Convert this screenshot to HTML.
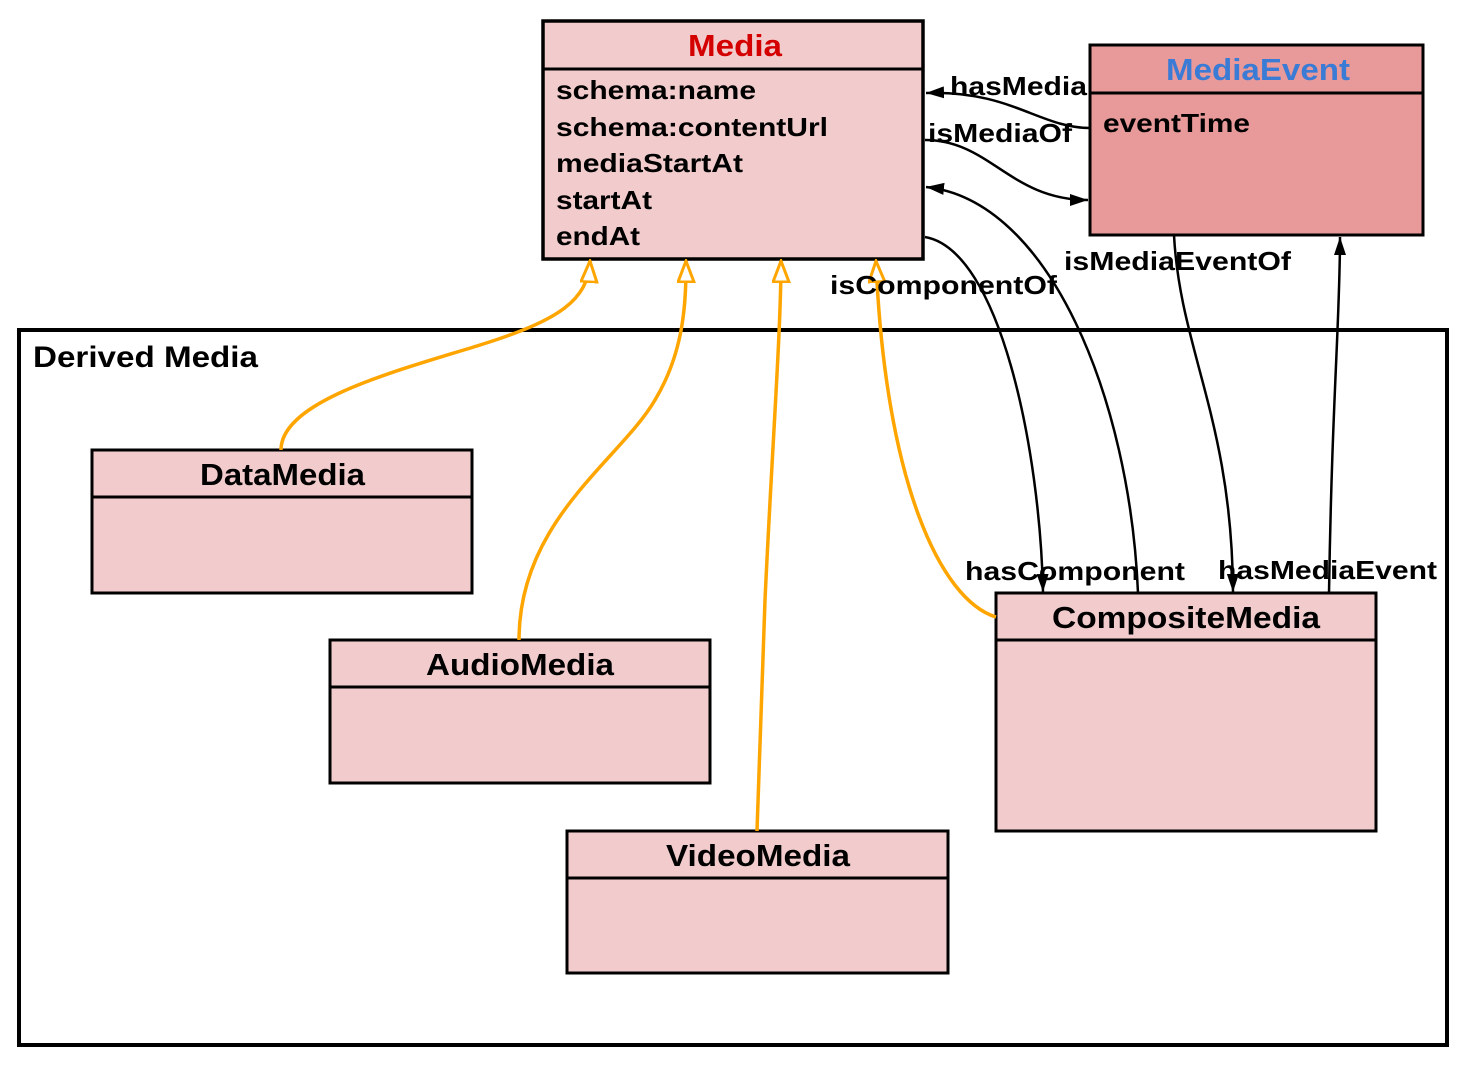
<!DOCTYPE html>
<html><head><meta charset="utf-8"><style>
html,body{margin:0;padding:0;background:#fff;}
svg{display:block;}
text{font-family:"Liberation Sans",Arial,sans-serif;font-weight:bold;}
</style></head><body>
<svg width="1467" height="1067" viewBox="0 0 1467 1067" xmlns="http://www.w3.org/2000/svg">
<defs>
<marker id="oa" markerUnits="userSpaceOnUse" markerWidth="24" markerHeight="22" refX="22" refY="9" orient="auto">
<path d="M1,1 L22,9 L1,17 Z" fill="#fff" stroke="#ffa500" stroke-width="3"/>
</marker>
<marker id="ba" markerUnits="userSpaceOnUse" markerWidth="20" markerHeight="14" refX="18" refY="6" orient="auto">
<path d="M0,0 L18,6 L0,12 Z" fill="#000"/>
</marker>
</defs>
<rect x="19" y="330" width="1428" height="715" fill="none" stroke="#000" stroke-width="4"/>
<text x="33" y="367" font-size="30" textLength="225" lengthAdjust="spacingAndGlyphs">Derived Media</text>

<!-- Media -->
<rect x="543" y="21" width="380" height="238" fill="#f2cccc" stroke="#000" stroke-width="3.5"/>
<line x1="543" y1="69" x2="923" y2="69" stroke="#000" stroke-width="3"/>
<text x="688" y="56" font-size="31" fill="#d40000" textLength="94" lengthAdjust="spacingAndGlyphs">Media</text>
<g font-size="26" lengthAdjust="spacingAndGlyphs">
<text x="556" y="99" textLength="200" lengthAdjust="spacingAndGlyphs">schema:name</text>
<text x="556" y="136" textLength="272" lengthAdjust="spacingAndGlyphs">schema:contentUrl</text>
<text x="556" y="172" textLength="187" lengthAdjust="spacingAndGlyphs">mediaStartAt</text>
<text x="556" y="209" textLength="96" lengthAdjust="spacingAndGlyphs">startAt</text>
<text x="556" y="245" textLength="84" lengthAdjust="spacingAndGlyphs">endAt</text></g>

<!-- MediaEvent -->
<rect x="1090" y="45" width="333" height="190" fill="#e89a9a" stroke="#000" stroke-width="3"/>
<line x1="1090" y1="93" x2="1423" y2="93" stroke="#000" stroke-width="3"/>
<text x="1166" y="80" font-size="31" fill="#3a7bd5" textLength="184" lengthAdjust="spacingAndGlyphs">MediaEvent</text>
<text x="1103" y="132" font-size="26" textLength="147" lengthAdjust="spacingAndGlyphs">eventTime</text>

<!-- sub boxes -->
<g fill="#f2cccc" stroke="#000" stroke-width="3">
<rect x="92" y="450" width="380" height="143"/><line x1="92" y1="497" x2="472" y2="497"/>
<rect x="330" y="640" width="380" height="143"/><line x1="330" y1="687" x2="710" y2="687"/>
<rect x="567" y="831" width="381" height="142"/><line x1="567" y1="878" x2="948" y2="878"/>
<rect x="996" y="593" width="380" height="238"/><line x1="996" y1="640" x2="1376" y2="640"/>
</g>
<g font-size="31">
<text x="200" y="485" textLength="165" lengthAdjust="spacingAndGlyphs">DataMedia</text>
<text x="426" y="675" textLength="188" lengthAdjust="spacingAndGlyphs">AudioMedia</text>
<text x="666" y="866" textLength="184" lengthAdjust="spacingAndGlyphs">VideoMedia</text>
<text x="1052" y="628" textLength="268" lengthAdjust="spacingAndGlyphs">CompositeMedia</text>
</g>

<!-- orange generalization -->
<g fill="none" stroke="#ffa500" stroke-width="3.5">
<path d="M281,450 C281,400 400,370 480,345 C560,320 588,300 590,261" marker-end="url(#oa)"/>
<path d="M519,640 C519,520 620,460 655,400 C685,350 686,300 686,261" marker-end="url(#oa)"/>
<path d="M757,831 L765,600 C772,450 781,330 781,261" marker-end="url(#oa)"/>
<path d="M996,617 C940,600 885,480 876,261" marker-end="url(#oa)"/>
</g>

<!-- black associations -->
<g fill="none" stroke="#000" stroke-width="2.5">
<path d="M1090,128 C1040,128 1010,90 926,93" marker-end="url(#ba)"/>
<path d="M925,140 C990,140 1010,200 1088,200" marker-end="url(#ba)"/>
<path d="M1138,593 C1130,400 1050,200 926,187" marker-end="url(#ba)"/>
<path d="M925,237 C1000,250 1040,450 1043,592" marker-end="url(#ba)"/>
<path d="M1174,235 C1180,350 1232,420 1233,592" marker-end="url(#ba)"/>
<path d="M1329,593 C1332,400 1340,320 1340,237" marker-end="url(#ba)"/>
</g>

<g font-size="26">
<text x="950" y="95" textLength="137" lengthAdjust="spacingAndGlyphs">hasMedia</text>
<text x="928" y="142" textLength="144" lengthAdjust="spacingAndGlyphs">isMediaOf</text>
<text x="830" y="294" textLength="227" lengthAdjust="spacingAndGlyphs">isComponentOf</text>
<text x="1064" y="270" textLength="227" lengthAdjust="spacingAndGlyphs">isMediaEventOf</text>
<text x="965" y="580" textLength="220" lengthAdjust="spacingAndGlyphs">hasComponent</text>
<text x="1218" y="579" textLength="219" lengthAdjust="spacingAndGlyphs">hasMediaEvent</text>
</g>
</svg>
</body></html>
